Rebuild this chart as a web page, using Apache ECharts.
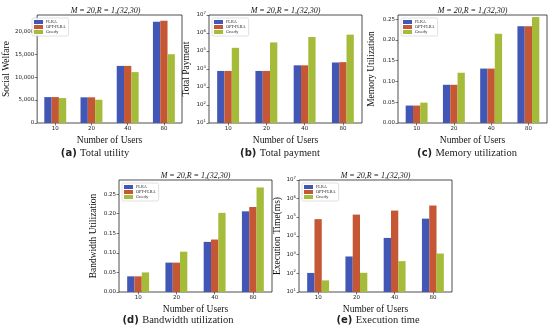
<!DOCTYPE html>
<html>
<head>
<meta charset="utf-8">
<script src="https://cdn.jsdelivr.net/npm/echarts@6/dist/echarts.min.js"></script>
<style>html,body{margin:0;padding:0;background:#fff;}#c{width:550px;height:330px;}</style>
</head>
<body>
<div id="c"></div>
<script>
// ---- data ----
const categories = ['10', '20', '40', '80'];
const seriesNames = ['FLRA', 'OPT-FLRA', 'Greedy'];

const welfareFLRA = [5650, 5600, 12450, 22100];
const welfareOPT = [5650, 5600, 12450, 22300];
const welfareGreedy = [5430, 5070, 11100, 15000];

const paymentFLRA = [7800, 7800, 16000, 23000];
const paymentOPT = [7800, 7800, 16000, 24000];
const paymentGreedy = [150000, 300000, 600000, 810000];

const memoryFLRA = [0.042, 0.092, 0.131, 0.233];
const memoryOPT = [0.042, 0.092, 0.131, 0.233];
const memoryGreedy = [0.049, 0.121, 0.215, 0.255];

const bandwidthFLRA = [0.040, 0.075, 0.128, 0.206];
const bandwidthOPT = [0.040, 0.075, 0.134, 0.217];
const bandwidthGreedy = [0.050, 0.103, 0.202, 0.267];

const timeFLRA = [105, 800, 7900, 85000];
const timeOPT = [80000, 140000, 230000, 430000];
const timeGreedy = [42, 107, 450, 1150];

const welfareTicks = [0, 5000, 10000, 15000, 20000];
const logTicks = [10, 100, 1000, 10000, 100000, 1000000, 10000000];
const utilTicks = [0, 0.05, 0.10, 0.15, 0.20, 0.25];

const panelTitle = 'M = 20,R = 1,(32,30)';
const yNames = ['Social Welfare', 'Total Payment', 'Memory Utilization', 'Bandwidth Utilization', 'Execution Time(ms)'];
const captionTags = ['(a)', '(b)', '(c)', '(d)', '(e)'];
const captionTexts = ['Total utility', 'Total payment', 'Memory utilization', 'Bandwidth utilization', 'Execution time'];
const xName = 'Number of Users';

// ---- styling / layout ----
const colors = ['#4257b5', '#c65735', '#a5bc3a'];
const grids = [
  {left: 29, top: 15, width: 153, height: 108},
  {left: 209, top: 15, width: 153, height: 108},
  {left: 398, top: 15, width: 149, height: 108},
  {left: 119, top: 180, width: 153, height: 112},
  {left: 299, top: 180, width: 153, height: 112}
];
const yNameGaps = [21, 18, 22, 21, 17];
const captionCenters = [[95, 153], [280, 153], [467, 153], [178, 320], [378, 320]];

const panelData = [
  [welfareFLRA, welfareOPT, welfareGreedy],
  [paymentFLRA, paymentOPT, paymentGreedy],
  [memoryFLRA, memoryOPT, memoryGreedy],
  [bandwidthFLRA, bandwidthOPT, bandwidthGreedy],
  [timeFLRA, timeOPT, timeGreedy]
];

const serif = 'Liberation Serif';
const sans = 'DejaVu Sans';

function fmtComma(v) { return String(v).replace(/\B(?=(\d{3})+(?!\d))/g, ','); }
function fmtUtil(v) { return v.toFixed(2); }
function fmtLog(v) { return '{b|10}{e|' + Math.round(Math.log10(v)) + '}'; }

const yConfigs = [
  {type: 'value', min: 0, max: 23550, ticks: welfareTicks, fmt: fmtComma},
  {type: 'log', min: 10, max: 10000000, ticks: logTicks, fmt: fmtLog},
  {type: 'value', min: 0, max: 0.26, ticks: utilTicks, fmt: fmtUtil},
  {type: 'value', min: 0, max: 0.286, ticks: utilTicks, fmt: fmtUtil},
  {type: 'log', min: 10, max: 10000000, ticks: logTicks, fmt: fmtLog}
];

const option = {
  animation: false,
  backgroundColor: '#fff',
  grid: grids.map(g => Object.assign({show: true, borderColor: '#222', borderWidth: 0.8, backgroundColor: 'transparent'}, g)),
  xAxis: grids.map((g, i) => ({
    type: 'category', gridIndex: i, data: categories,
    axisLine: {show: false},
    axisTick: {show: true, alignWithLabel: true, length: 2.5, lineStyle: {color: '#222', width: 0.6}},
    axisLabel: {fontSize: 5.5, color: '#222', margin: 3, fontFamily: sans},
    splitLine: {show: false},
    name: xName, nameLocation: 'middle', nameGap: 12,
    nameTextStyle: {fontFamily: serif, fontSize: 9.5, color: '#111'}
  })),
  yAxis: yConfigs.map((c, i) => {
    const ax = {
      type: c.type, gridIndex: i, min: c.min, max: c.max,
      axisLine: {show: false},
      axisTick: {show: true, length: 2.5, customValues: c.ticks, lineStyle: {color: '#222', width: 0.6}},
      axisLabel: {fontSize: 5.5, color: '#222', margin: 3, fontFamily: sans, customValues: c.ticks, formatter: c.fmt,
        rich: {b: {fontSize: 5.5, color: '#222', fontFamily: sans}, e: {fontSize: 3.8, color: '#222', fontFamily: sans, padding: [0, 0, 4, 0]}}},
      splitLine: {show: false},
      name: yNames[i], nameLocation: 'middle', nameGap: yNameGaps[i], nameRotate: 90,
      nameTextStyle: {fontFamily: serif, fontSize: 9.5, color: '#111'}
    };
    if (c.type === 'log') ax.logBase = 10;
    return ax;
  }),
  legend: grids.map(g => ({
    data: seriesNames, orient: 'vertical',
    left: g.left + 3, top: g.top + 3,
    itemWidth: 9, itemHeight: 4, itemGap: 1, icon: 'rect',
    padding: [2, 3, 2, 2],
    borderColor: '#ccc', borderWidth: 0.6, borderRadius: 1.5,
    backgroundColor: 'rgba(255,255,255,0.8)',
    textStyle: {fontSize: 4.2, color: '#222', fontFamily: serif, padding: [0, 0, 0, -2]}
  })),
  series: [],
  graphic: []
};

panelData.forEach((arrs, i) => {
  arrs.forEach((vals, k) => {
    option.series.push({
      type: 'bar', name: seriesNames[k], xAxisIndex: i, yAxisIndex: i,
      data: vals, barWidth: 7.3, barGap: '0%',
      itemStyle: {color: colors[k]}
    });
  });
  const g = grids[i];
  option.graphic.push({
    type: 'text', x: g.left + g.width / 2, y: g.top - 0.5,
    style: {text: panelTitle, font: 'italic 8px "Liberation Serif"', fill: '#111', textAlign: 'center', textVerticalAlign: 'bottom'}
  });
  option.graphic.push({
    type: 'text', x: captionCenters[i][0], y: captionCenters[i][1],
    style: {
      text: '{t|' + captionTags[i] + '} {c|' + captionTexts[i] + '}',
      textAlign: 'center', textVerticalAlign: 'middle',
      rich: {
        t: {fontFamily: sans, fontSize: 10, fontWeight: 'bold', fill: '#222'},
        c: {fontFamily: serif, fontSize: 10.5, fill: '#222'}
      }
    }
  });
});

const chart = echarts.init(document.getElementById('c'), null, {renderer: 'canvas'});
chart.setOption(option);
</script>
</body>
</html>
